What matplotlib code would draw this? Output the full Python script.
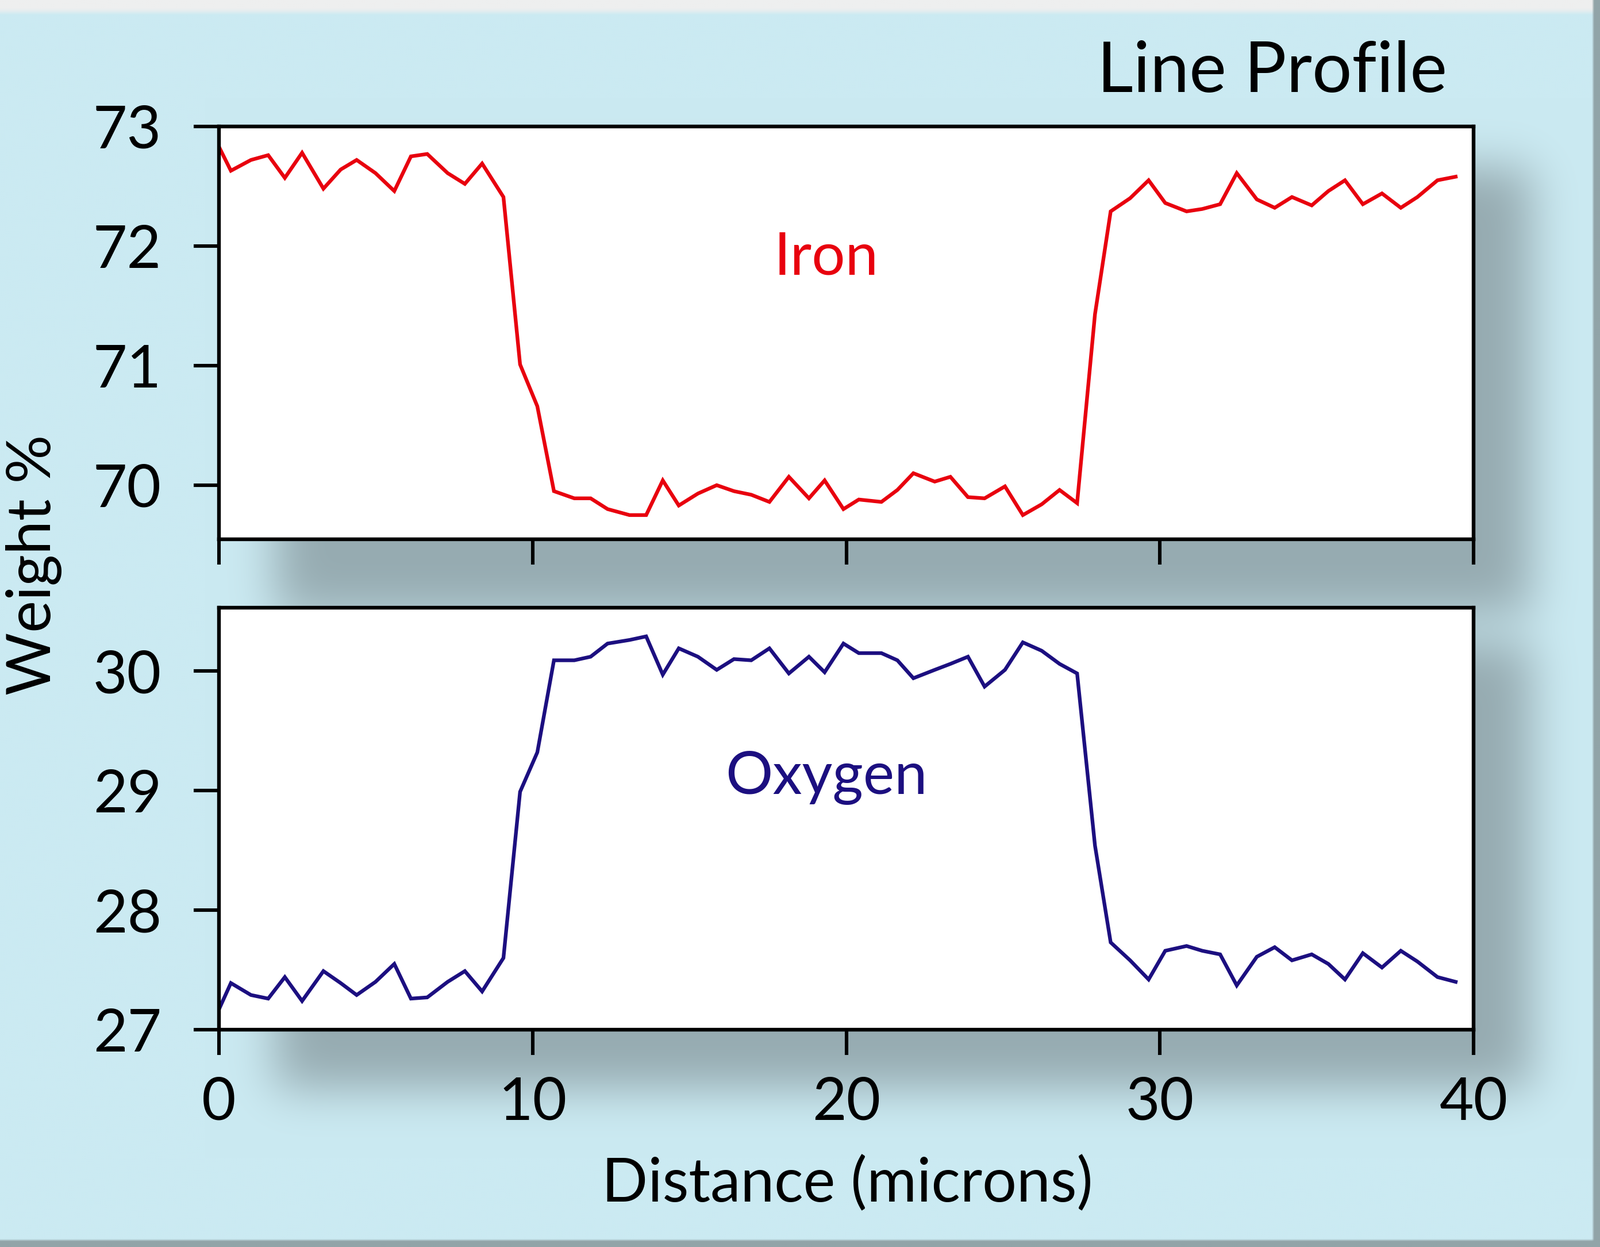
import numpy as np
import matplotlib
matplotlib.use("Agg")
import matplotlib.pyplot as plt

# ---------------- data ----------------
distance = [0.0, 0.38, 1.02, 1.57, 2.10, 2.65, 3.33, 3.88, 4.39, 4.99,
            5.59, 6.12, 6.64, 7.29, 7.84, 8.39, 9.07, 9.60, 10.15, 10.68,
            11.33, 11.85, 12.39, 13.09, 13.62, 14.15, 14.66, 15.27, 15.87, 16.42,
            16.97, 17.55, 18.17, 18.81, 19.31, 19.91, 20.40, 21.12, 21.63, 22.14,
            22.82, 23.32, 23.88, 24.41, 25.06, 25.63, 26.23, 26.80, 27.36, 27.93,
            28.43, 29.05, 29.64, 30.17, 30.85, 31.35, 31.92, 32.45, 33.09, 33.66,
            34.21, 34.84, 35.37, 35.90, 36.47, 37.08, 37.68, 38.21, 38.85, 39.43]

iron = [72.83, 72.63, 72.72, 72.76, 72.57, 72.78, 72.48, 72.64, 72.72, 72.61,
        72.46, 72.75, 72.77, 72.61, 72.52, 72.69, 72.41, 71.01, 70.66, 69.95,
        69.89, 69.89, 69.80, 69.75, 69.75, 70.04, 69.83, 69.93, 70.00, 69.95,
        69.92, 69.86, 70.07, 69.89, 70.04, 69.80, 69.88, 69.86, 69.96, 70.10,
        70.03, 70.07, 69.90, 69.89, 69.99, 69.75, 69.84, 69.96, 69.85, 71.43,
        72.29, 72.40, 72.55, 72.36, 72.29, 72.31, 72.35, 72.61, 72.39, 72.32,
        72.41, 72.34, 72.46, 72.55, 72.35, 72.44, 72.32, 72.41, 72.55, 72.58]

oxygen = [27.17, 27.39, 27.29, 27.26, 27.44, 27.24, 27.49, 27.39, 27.29, 27.40,
          27.55, 27.26, 27.27, 27.40, 27.49, 27.32, 27.60, 28.99, 29.32, 30.09,
          30.09, 30.12, 30.23, 30.26, 30.29, 29.97, 30.19, 30.12, 30.01, 30.10,
          30.09, 30.19, 29.98, 30.12, 29.99, 30.23, 30.15, 30.15, 30.09, 29.94,
          30.01, 30.06, 30.12, 29.87, 30.01, 30.24, 30.17, 30.06, 29.98, 28.54,
          27.73, 27.58, 27.42, 27.66, 27.70, 27.66, 27.63, 27.37, 27.61, 27.69,
          27.58, 27.63, 27.55, 27.42, 27.64, 27.52, 27.66, 27.57, 27.44, 27.40]

x_ticks = [0, 10, 20, 30, 40]
iron_ticks = [70, 71, 72, 73]
oxygen_ticks = [27, 28, 29, 30]

title = "Line Profile"
x_label = "Distance (microns)"
y_label = "Weight %"
iron_label = "Iron"
oxygen_label = "Oxygen"

# ---------------- style ----------------
plt.rcParams['font.family'] = ['Lato', 'DejaVu Sans']
W, H = 2784, 2169
DPI = 200
BG = np.array([203, 234, 242]) / 255.0
SHADOW = np.array([150, 171, 177]) / 255.0
IRON_C = '#e8000e'
OXY_C = '#1c0f80'

fig = plt.figure(figsize=(W / DPI, H / DPI), dpi=DPI)
fig.patch.set_facecolor(BG)

# ---------------- background with soft drop shadows ----------------
f = 4
h, w = H // f + 1, W // f + 1
Y, X = np.mgrid[0:h, 0:w] * f
mask = np.zeros((h, w))
def add_rect(x0, x1, y0, y1):
    mask[(X >= x0) & (X < x1) & (Y >= y0) & (Y < y1)] = 1.0
add_rect(480, 2665, 290, 1065)
add_rect(480, 2665, 1120, 1895)
sig = 40.0 / f
r = int(3 * sig)
k = np.exp(-0.5 * (np.arange(-r, r + 1) / sig) ** 2)
k /= k.sum()
m = np.apply_along_axis(lambda v: np.convolve(v, k, mode='same'), 1, mask)
m = np.apply_along_axis(lambda v: np.convolve(v, k, mode='same'), 0, m)
rgb = BG[None, None, :] * (1 - m[..., None]) + SHADOW[None, None, :] * m[..., None]
# top light strip
top = np.clip((24 - Y) / 10.0, 0, 1)
rgb = rgb * (1 - top[..., None]) + np.array([238, 239, 239])[None, None, :] / 255.0 * top[..., None]
# right and bottom frame strips
edge = ((X >= 2776) | (Y >= 2160)).astype(float)
rgb = rgb * (1 - edge[..., None]) + np.array([145, 164, 168])[None, None, :] / 255.0 * edge[..., None]

bgax = fig.add_axes([0, 0, 1, 1], zorder=0)
bgax.imshow(rgb, extent=[0, W, H, 0], aspect='auto', interpolation='bilinear')
bgax.set_xlim(0, W)
bgax.set_ylim(H, 0)
bgax.axis('off')

# ---------------- axes ----------------
def frac_box(x0, x1, y0, y1):
    return [x0 / W, 1 - y1 / H, (x1 - x0) / W, (y1 - y0) / H]

ax1 = fig.add_axes(frac_box(381, 2564, 220, 937.5), zorder=2)
ax2 = fig.add_axes(frac_box(381, 2564, 1057, 1791), zorder=2)

for ax in (ax1, ax2):
    ax.set_facecolor('white')
    for s in ax.spines.values():
        s.set_linewidth(2.3)
        s.set_color('black')
    ax.set_xlim(0, 40)
    ax.set_xticks(x_ticks)
    ax.tick_params(axis='both', which='major', direction='out', length=16,
                   width=2.2, color='black', labelsize=37)
    ax.tick_params(axis='y', pad=20)
    ax.tick_params(axis='x', pad=13)

ax1.plot(distance, iron, color=IRON_C, lw=2.3, solid_joinstyle='miter')
ax1.set_ylim(69.55, 73.0)
ax1.set_yticks(iron_ticks)
ax1.tick_params(axis='x', labelbottom=False)
ax1.text(19.36, 71.76, iron_label, color=IRON_C, fontsize=37,
         ha='center', va='baseline')

ax2.plot(distance, oxygen, color=OXY_C, lw=2.3, solid_joinstyle='miter')
ax2.set_ylim(27.0, 30.53)
ax2.set_yticks(oxygen_ticks)
ax2.text(19.36, 28.97, oxygen_label, color=OXY_C, fontsize=37,
         ha='center', va='baseline')

# ---------------- figure texts ----------------
fig.text(2518 / W, 1 - 160 / H, title, fontsize=44, ha='right', va='baseline')
fig.text(1474 / W, 1 - 2090 / H, x_label, fontsize=38, ha='center', va='baseline')
fig.text(59 / W, 1 - 982 / H, y_label, fontsize=38, rotation=90,
         ha='center', va='center')

fig.savefig('out.png', dpi=DPI, facecolor=fig.get_facecolor())
